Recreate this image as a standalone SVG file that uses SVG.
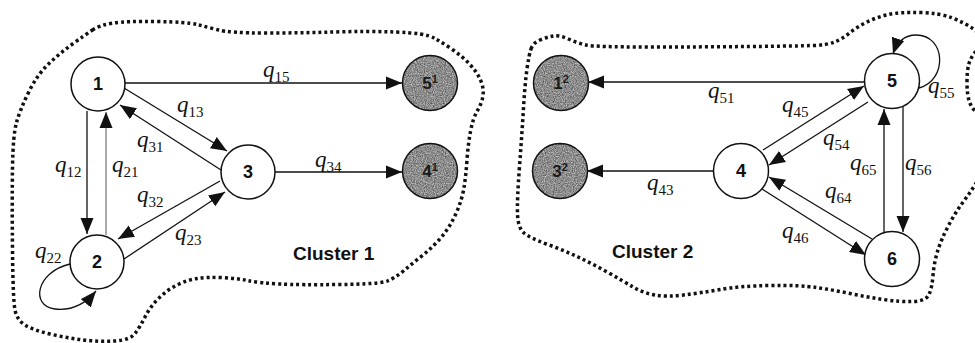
<svg xmlns="http://www.w3.org/2000/svg" width="975" height="343" viewBox="0 0 975 343">
  <style>
    .node { fill: #ffffff; stroke: #111; stroke-width: 1.5; }
    .ring { fill: none; stroke: #111; stroke-width: 1.5; }
    .nlabel { font-family: "Liberation Sans", Arial, sans-serif; font-weight: bold; font-size: 18px; fill: #111; text-anchor: middle; }
    .glabel { font-family: "Liberation Sans", Arial, sans-serif; font-weight: bold; font-size: 17px; fill: #1a1a1a; text-anchor: middle; }
    .edge { fill: none; stroke: #111; stroke-width: 1.3; marker-end: url(#arr); }
    .faint { stroke: #555; stroke-width: 1; }
    .q { font-family: "Liberation Serif", "Times New Roman", serif; font-style: italic; font-size: 23px; fill: #111; }
    .sub { font-style: normal; font-size: 15px; }
    .cluster { fill: none; stroke: #111; stroke-width: 3.5; stroke-dasharray: 3 3; }
    .ctitle { font-family: "Liberation Sans", Arial, sans-serif; font-weight: bold; font-size: 19px; fill: #111; }
  </style>
  <defs>
    <marker id="arr" markerUnits="userSpaceOnUse" markerWidth="18" markerHeight="14" refX="16" refY="7" orient="auto">
      <path d="M0,0.5 L16,7 L0,13.5 Z" fill="#111"/>
    </marker>
    <!-- speckled grey fill for the boundary states -->
    <filter id="grain" x="0%" y="0%" width="100%" height="100%" color-interpolation-filters="sRGB">
      <feTurbulence type="fractalNoise" baseFrequency="0.9" numOctaves="2" seed="3"/>
      <feColorMatrix type="matrix" values="0.7 0 0 0 0.2  0.7 0 0 0 0.2  0.7 0 0 0 0.2  0 0 0 0 1"/>
      <feComposite in2="SourceGraphic" operator="in"/>
    </filter>
  </defs>

  <!-- cluster outlines -->
  <g id="clusters">
    <path class="cluster" d="M92.5,30 Q100,25 113.5,23 Q127,21 157,21.5 Q187,22 197,24.5 Q207,27 218.5,30 Q230,33 265,33 Q300,33 333.5,32 Q367,31 396,32 Q425,33 434,38 Q443,43 453,50 Q463,57 470,64.5 Q477,72 480.5,80 Q484,88 483,95.5 Q482,103 477.5,110.5 Q473,118 470.5,131.5 Q468,145 467,160 Q466,175 464,187.5 Q462,200 456,213.5 Q450,227 441.5,237 Q433,247 423,255 Q413,263 404,270.5 Q395,278 387.5,281 Q380,284 340,284.5 Q300,285 280,284 Q260,283 247.5,280.5 Q235,278 221,277.5 Q207,277 197,278.5 Q187,280 177,285 Q167,290 158.5,298.5 Q150,307 145,317 Q140,327 135,333.5 Q130,340 115,341 Q100,342 83.5,340 Q67,338 50,334 Q33,330 25,325 Q17,320 15,310 Q13,300 12.5,250 Q12,200 12.5,167.5 Q13,135 16.5,122.5 Q20,110 28.5,92.5 Q37,75 48.5,64 Q60,53 72.5,44 Q85,35 92.5,30 Z"/>
    <path class="cluster" d="M531,49 Q533,43 540,40 Q547,37 553.5,36 Q560,35 568.5,39 Q577,43 586,45 Q595,47 647.5,47 Q700,47 750,46.5 Q800,46 813.5,45.5 Q827,45 834.5,42 Q842,39 849.5,33 Q857,27 867,22 Q877,17 888.5,14.5 Q900,12 920,12.5 Q940,13 952.5,18 Q965,23 973.5,29 Q982,35 981,41 Q980,47 975.5,52 Q971,57 969,63.5 Q967,70 967,82.5 Q967,95 969.5,102 Q972,109 977,112.5 Q982,116 983,143 Q984,170 978,180 Q972,190 963.5,201.5 Q955,213 948,226.5 Q941,240 937.5,251.5 Q934,263 933,275.5 Q932,288 929,294.5 Q926,301 913,301.5 Q900,302 883.5,299.5 Q867,297 850,293.5 Q833,290 816.5,287.5 Q800,285 770,285.5 Q740,286 720,289.5 Q700,293 683.5,295 Q667,297 655,295 Q643,293 633,287 Q623,281 608,272.5 Q593,264 578,257 Q563,250 546.5,244 Q530,238 524,233 Q518,228 517.5,214 Q517,200 519.5,166.5 Q522,133 523.5,108 Q525,83 527,69 Q529,55 531,49 Z"/>
    <text class="ctitle" x="293" y="260">Cluster 1</text>
    <text class="ctitle" x="612" y="258">Cluster 2</text>
  </g>

  <!-- connectors -->
  <g id="connectors">
    <line class="edge" x1="125" y1="83" x2="402" y2="83"/>
    <line class="edge" x1="275" y1="172" x2="402" y2="172"/>
    <line class="edge" x1="124" y1="88" x2="227" y2="151"/>
    <line class="edge" x1="221" y1="170" x2="120" y2="105"/>
    <line class="edge" x1="87" y1="111" x2="87" y2="234"/>
    <line class="edge faint" x1="106" y1="235" x2="106" y2="112"/>
    <line class="edge" x1="220" y1="181" x2="118" y2="239"/>
    <line class="edge" x1="124" y1="259" x2="225" y2="192"/>
    <path class="edge" d="M70,264 C 36,272 30,306 55,309 C 72,311 86,303 96,291"/>

    <line class="edge" x1="865" y1="82" x2="588" y2="82"/>
    <line class="edge" x1="713" y1="171" x2="587" y2="171"/>
    <line class="edge" x1="763" y1="150" x2="864" y2="86"/>
    <line class="edge" x1="868" y1="102" x2="769" y2="165"/>
    <line class="edge" x1="872" y1="239" x2="769" y2="177"/>
    <line class="edge" x1="762" y1="189" x2="866" y2="255"/>
    <line class="edge" x1="884" y1="233" x2="884" y2="109"/>
    <line class="edge" x1="903" y1="107" x2="903" y2="232"/>
    <path class="edge" d="M919,88 C 948,80 946,35 916,35 C 905,35 897,42 893,54"/>
  </g>

  <!-- rate labels -->
  <g id="rates">
    <text class="q" x="263" y="77">q<tspan class="sub" dy="5">15</tspan></text>
    <text class="q" x="177" y="112">q<tspan class="sub" dy="5">13</tspan></text>
    <text class="q" x="137" y="147">q<tspan class="sub" dy="5">31</tspan></text>
    <text class="q" x="55" y="172">q<tspan class="sub" dy="5">12</tspan></text>
    <text class="q" x="112" y="172">q<tspan class="sub" dy="5">21</tspan></text>
    <text class="q" x="137" y="202">q<tspan class="sub" dy="5">32</tspan></text>
    <text class="q" x="175" y="240">q<tspan class="sub" dy="5">23</tspan></text>
    <text class="q" x="35" y="258">q<tspan class="sub" dy="5">22</tspan></text>
    <text class="q" x="315" y="167">q<tspan class="sub" dy="5">34</tspan></text>
    <text class="q" x="708" y="98">q<tspan class="sub" dy="5">51</tspan></text>
    <text class="q" x="647" y="190">q<tspan class="sub" dy="5">43</tspan></text>
    <text class="q" x="782" y="112">q<tspan class="sub" dy="5">45</tspan></text>
    <text class="q" x="823" y="145">q<tspan class="sub" dy="5">54</tspan></text>
    <text class="q" x="850" y="170">q<tspan class="sub" dy="5">65</tspan></text>
    <text class="q" x="905" y="170">q<tspan class="sub" dy="5">56</tspan></text>
    <text class="q" x="825" y="198">q<tspan class="sub" dy="5">64</tspan></text>
    <text class="q" x="782" y="238">q<tspan class="sub" dy="5">46</tspan></text>
    <text class="q" x="928" y="93">q<tspan class="sub" dy="5">55</tspan></text>
  </g>

  <!-- cluster 1 states -->
  <g id="n1"><circle class="node" cx="98" cy="84" r="27"/><text class="nlabel" x="98" y="90">1</text></g>
  <g id="n2"><circle class="node" cx="97" cy="262" r="27"/><text class="nlabel" x="97" y="268">2</text></g>
  <g id="n3"><circle class="node" cx="248" cy="172" r="27"/><text class="nlabel" x="248" y="178">3</text></g>
  <g id="n5c1"><circle cx="430" cy="83" r="27.5" fill="#999" filter="url(#grain)"/><circle class="ring" cx="430" cy="83" r="27.5"/><text class="glabel" x="430" y="89">5<tspan font-size="11" dy="-6">1</tspan></text></g>
  <g id="n4c1"><circle cx="430" cy="171" r="27.5" fill="#999" filter="url(#grain)"/><circle class="ring" cx="430" cy="171" r="27.5"/><text class="glabel" x="430" y="177">4<tspan font-size="11" dy="-6">1</tspan></text></g>

  <!-- cluster 2 states -->
  <g id="n1c2"><circle cx="561" cy="83" r="27.5" fill="#999" filter="url(#grain)"/><circle class="ring" cx="561" cy="83" r="27.5"/><text class="glabel" x="561" y="89">1<tspan font-size="11" dy="-6">2</tspan></text></g>
  <g id="n3c2"><circle cx="560" cy="171" r="27.5" fill="#999" filter="url(#grain)"/><circle class="ring" cx="560" cy="171" r="27.5"/><text class="glabel" x="560" y="177">3<tspan font-size="11" dy="-6">2</tspan></text></g>
  <g id="n4"><circle class="node" cx="741" cy="171" r="27.5"/><text class="nlabel" x="741" y="177">4</text></g>
  <g id="n5"><circle class="node" cx="892" cy="81" r="27.5"/><text class="nlabel" x="892" y="87">5</text></g>
  <g id="n6"><circle class="node" cx="892" cy="259" r="27.5"/><text class="nlabel" x="892" y="265">6</text></g>
</svg>
